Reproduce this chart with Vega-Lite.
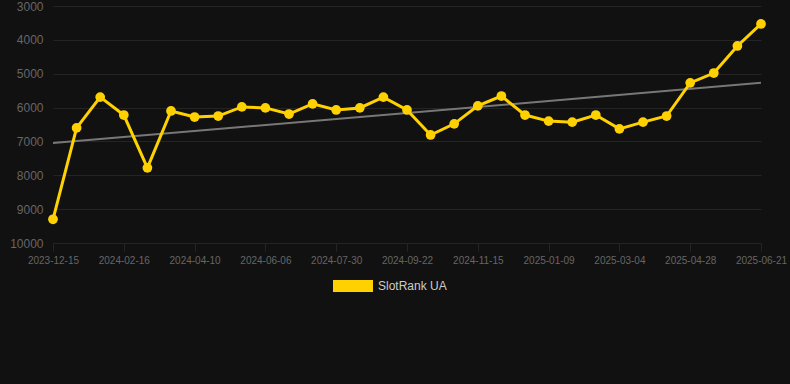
{
  "$schema": "https://vega.github.io/schema/vega-lite/v6.json",
  "width": 708,
  "height": 237,
  "autosize": "none",
  "padding": {"left": 53, "top": 6, "right": 29, "bottom": 141},
  "background": "#111111",
  "config": {
    "view": {"stroke": null},
    "axis": {
      "gridColor": "#242424",
      "gridWidth": 1,
      "tickColor": "#242424",
      "domain": false,
      "labelColor": "#666666",
      "labelFont": "Liberation Sans",
      "labelOverlap": false
    }
  },
  "datasets": {
    "rank": [
      {"date": "2023-12-15", "rank": 9300},
      {"date": "2024-01-05", "rank": 6600},
      {"date": "2024-01-26", "rank": 5690},
      {"date": "2024-02-16", "rank": 6220},
      {"date": "2024-03-05", "rank": 7780},
      {"date": "2024-03-23", "rank": 6100},
      {"date": "2024-04-10", "rank": 6280},
      {"date": "2024-04-29", "rank": 6250},
      {"date": "2024-05-18", "rank": 5980},
      {"date": "2024-06-06", "rank": 6010},
      {"date": "2024-06-24", "rank": 6190},
      {"date": "2024-07-12", "rank": 5890},
      {"date": "2024-07-30", "rank": 6070},
      {"date": "2024-08-17", "rank": 6010},
      {"date": "2024-09-04", "rank": 5690},
      {"date": "2024-09-22", "rank": 6070},
      {"date": "2024-10-10", "rank": 6810},
      {"date": "2024-10-28", "rank": 6480},
      {"date": "2024-11-15", "rank": 5950},
      {"date": "2024-12-03", "rank": 5660},
      {"date": "2024-12-21", "rank": 6220},
      {"date": "2025-01-09", "rank": 6400},
      {"date": "2025-01-27", "rank": 6430},
      {"date": "2025-02-14", "rank": 6220},
      {"date": "2025-03-04", "rank": 6630},
      {"date": "2025-03-22", "rank": 6430},
      {"date": "2025-04-09", "rank": 6250},
      {"date": "2025-04-28", "rank": 5270},
      {"date": "2025-05-16", "rank": 4980},
      {"date": "2025-06-03", "rank": 4180},
      {"date": "2025-06-21", "rank": 3530}
    ],
    "trend": [
      {"date": "2023-12-15", "trend": 7050},
      {"date": "2025-06-21", "trend": 5270}
    ]
  },
  "encoding": {
    "x": {
      "field": "date",
      "type": "ordinal",
      "scale": {"type": "point", "padding": 0},
      "axis": {
        "title": null,
        "labelAngle": 0,
        "labelFontSize": 10,
        "labelPadding": 4,
        "tickSize": 8,
        "values": ["2023-12-15", "2024-02-16", "2024-04-10", "2024-06-06", "2024-07-30", "2024-09-22", "2024-11-15", "2025-01-09", "2025-03-04", "2025-04-28", "2025-06-21"]
      }
    }
  },
  "layer": [
    {
      "data": {"name": "trend"},
      "mark": {"type": "line", "color": "#777777", "strokeWidth": 2},
      "encoding": {
        "y": {
          "field": "trend",
          "type": "quantitative",
          "scale": {"domain": [3000, 10000], "reverse": true, "nice": false, "zero": false},
          "axis": {
            "title": null,
            "values": [3000, 4000, 5000, 6000, 7000, 8000, 9000, 10000],
            "labelOverlap": false,
            "labelFontSize": 12,
            "labelPadding": 10,
            "ticks": false,
            "format": "d"
          }
        }
      }
    },
    {
      "data": {"name": "rank"},
      "mark": {"type": "line", "strokeWidth": 3},
      "encoding": {
        "y": {
          "field": "rank",
          "type": "quantitative",
          "scale": {"domain": [3000, 10000], "reverse": true, "nice": false, "zero": false},
          "axis": {
            "title": null,
            "values": [3000, 4000, 5000, 6000, 7000, 8000, 9000, 10000],
            "labelOverlap": false,
            "labelFontSize": 12,
            "labelPadding": 10,
            "ticks": false,
            "format": "d"
          }
        },
        "color": {
          "datum": "SlotRank UA",
          "scale": {"range": ["#FFD100"]},
          "legend": {
            "title": null,
            "orient": "none",
            "legendX": 280,
            "legendY": 260,
            "padding": 0,
            "symbolType": "M-1,-0.3H1V0.3H-1Z",
            "symbolSize": 1600,
            "symbolFillColor": "#FFD100",
            "symbolStrokeColor": "#FFD100",
            "symbolStrokeWidth": 0,
            "labelOffset": 5,
            "labelFontSize": 12,
            "labelColor": "#cccccc",
            "labelFont": "Liberation Sans"
          }
        }
      }
    },
    {
      "data": {"name": "rank"},
      "mark": {"type": "point", "filled": true, "size": 95, "opacity": 1},
      "encoding": {
        "y": {
          "field": "rank",
          "type": "quantitative",
          "scale": {"domain": [3000, 10000], "reverse": true, "nice": false, "zero": false},
          "axis": {
            "title": null,
            "values": [3000, 4000, 5000, 6000, 7000, 8000, 9000, 10000],
            "labelOverlap": false,
            "labelFontSize": 12,
            "labelPadding": 10,
            "ticks": false,
            "format": "d"
          }
        },
        "color": {"datum": "SlotRank UA"}
      }
    }
  ]
}
